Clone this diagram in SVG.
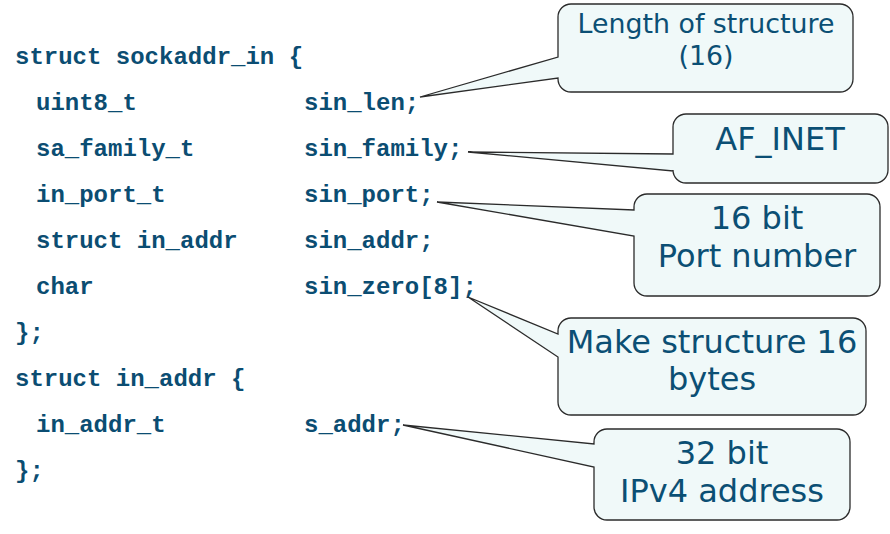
<svg xmlns="http://www.w3.org/2000/svg" width="890" height="534" viewBox="0 0 890 534">
<style>
.code{font-family:"Liberation Mono","Courier New",monospace;font-weight:bold;font-size:24px;fill:#0b4d72}
.co{fill:#f0f9f9;stroke:#2b2b2b;stroke-width:1.3;stroke-linejoin:miter}
.ct{font-family:"DejaVu Sans",Verdana,sans-serif;fill:#0b4f74;text-anchor:middle}
.s27{font-size:26.8px}
.s32{font-size:32px}
</style>
<rect width="890" height="534" fill="#ffffff"/>
<g id="code">
<text class="code" x="15" y="64">struct sockaddr_in {</text>
<text class="code" x="36" y="110">uint8_t</text><text class="code" x="304" y="110">sin_len;</text>
<text class="code" x="36" y="156">sa_family_t</text><text class="code" x="304" y="156">sin_family;</text>
<text class="code" x="36" y="202">in_port_t</text><text class="code" x="304" y="202">sin_port;</text>
<text class="code" x="36" y="248">struct in_addr</text><text class="code" x="304" y="248">sin_addr;</text>
<text class="code" x="36" y="294">char</text><text class="code" x="304" y="294">sin_zero[8];</text>
<text class="code" x="15" y="340">};</text>
<text class="code" x="15" y="386">struct in_addr {</text>
<text class="code" x="36" y="432">in_addr_t</text><text class="code" x="304" y="432">s_addr;</text>
<text class="code" x="15" y="478">};</text>
</g>
<g id="connectors"></g>
<g id="callout-len">
<path class="co" d="M571,4 H840 A13,13 0 0 1 853,17 V79 A13,13 0 0 1 840,92 H571 A13,13 0 0 1 558,79 V78 L420,97 L558,57 V17 A13,13 0 0 1 571,4 Z"/>
<text class="ct s27" x="706" y="33">Length of structure</text>
<text class="ct s27" x="706" y="65">(16)</text>
</g>
<g id="callout-family">
<path class="co" d="M686,114 H875 A13,13 0 0 1 888,127 V170 A13,13 0 0 1 875,183 H686 A13,13 0 0 1 673,170 V171 L468,152 L673,154 V127 A13,13 0 0 1 686,114 Z"/>
<text class="ct s32" x="780" y="150">AF_INET</text>
</g>
<g id="callout-port">
<path class="co" d="M647,194 H867 A13,13 0 0 1 880,207 V283 A13,13 0 0 1 867,296 H647 A13,13 0 0 1 634,283 V236 L437,202 L634,210 V207 A13,13 0 0 1 647,194 Z"/>
<text class="ct s32" x="757" y="229">16 bit</text>
<text class="ct s32" x="757" y="267">Port number</text>
</g>
<g id="callout-zero">
<path class="co" d="M571,318 H853 A13,13 0 0 1 866,331 V402 A13,13 0 0 1 853,415 H571 A13,13 0 0 1 558,402 V357 L468,297 L558,334 V331 A13,13 0 0 1 571,318 Z"/>
<text class="ct s32" x="712" y="353">Make structure 16</text>
<text class="ct s32" x="712" y="390">bytes</text>
</g>
<g id="callout-addr">
<path class="co" d="M607,429 H837 A13,13 0 0 1 850,442 V507 A13,13 0 0 1 837,520 H607 A13,13 0 0 1 594,507 V467 L403,425 L594,444 V442 A13,13 0 0 1 607,429 Z"/>
<text class="ct s32" x="722" y="464">32 bit</text>
<text class="ct s32" x="722" y="502">IPv4 address</text>
</g>
</svg>
